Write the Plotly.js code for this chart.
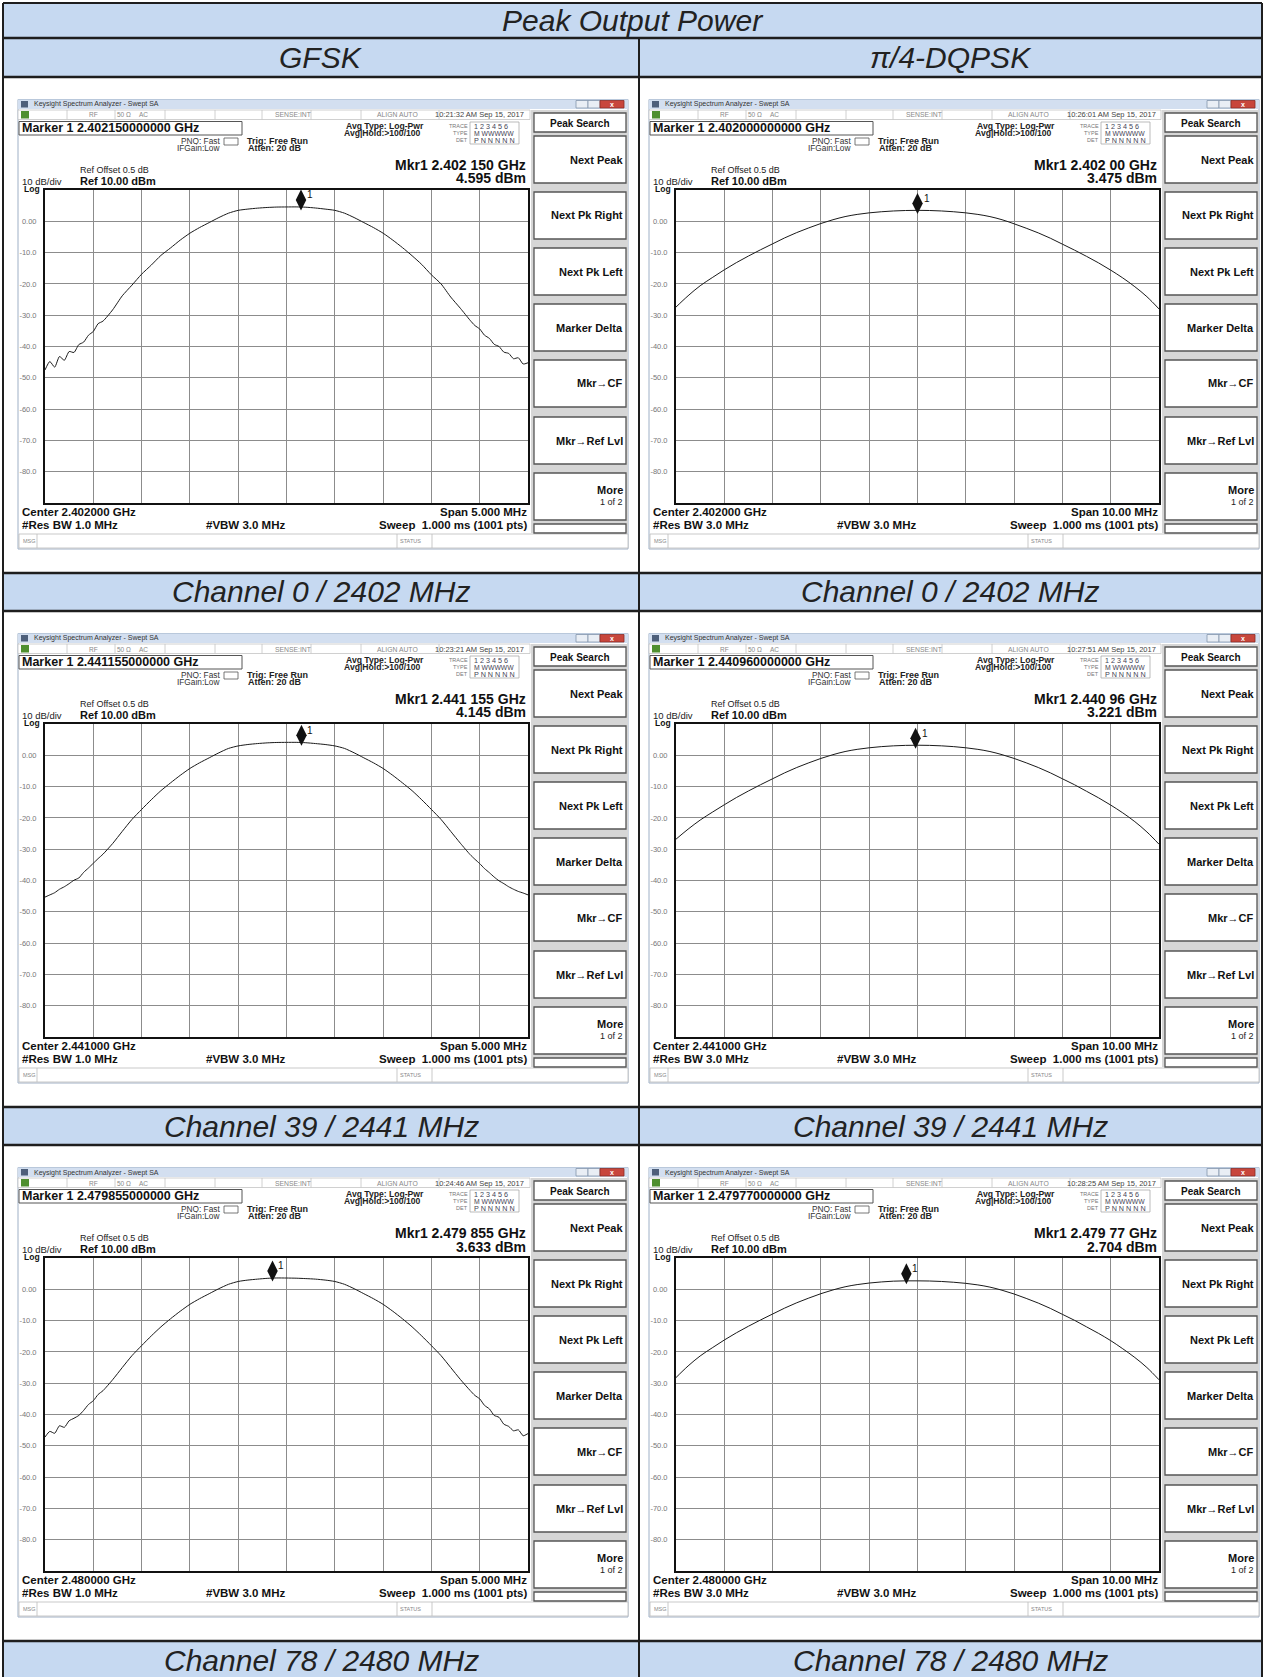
<!DOCTYPE html>
<html><head><meta charset="utf-8">
<script src="https://cdn.plot.ly/plotly-3.0.1.min.js"></script>
<style>html,body{margin:0;padding:0;background:#fff}#chart{width:1265px;height:1677px}</style>
</head><body><div id="chart"></div>
<script>
// ---------------- DATA ----------------
const tableTitle = 'Peak Output Power';
const modulations = ['GFSK', 'π/4-DQPSK'];
const channelLabels = ['Channel 0 / 2402 MHz', 'Channel 39 / 2441 MHz', 'Channel 78 / 2480 MHz'];
const channelCentersMHz = [2402, 2441, 2480];
const centerTexts = ['Center 2.402000 GHz', 'Center 2.441000 GHz', 'Center 2.480000 GHz'];

const gfskSpanMHz = 5;
const dqpskSpanMHz = 10;

// frequency offsets from centre (MHz) of the sampled trace points
const gfskOffsetsMHz = [-2.5,-2.45,-2.4,-2.35,-2.3,-2.25,-2.2,-2.15,-2.1,-2.05,-2.0,-1.95,-1.9,
  -1.8,-1.7,-1.6,-1.5,-1.4,-1.3,-1.2,-1.1,-1.0,-0.9,-0.8,-0.7,-0.6,-0.5,-0.4,-0.3,-0.2,-0.1,
  0,0.1,0.2,0.3,0.4,0.5,0.6,0.7,0.8,0.9,1.0,1.1,1.2,1.3,1.4,1.5,1.6,1.7,1.8,
  1.9,1.95,2.0,2.05,2.1,2.15,2.2,2.25,2.3,2.35,2.4,2.45,2.5];
const gfskCh0 = [-47.5,-44.8,-46.6,-43.2,-44.4,-41.6,-41.9,-39.4,-38.6,-36.4,-35.2,-32.7,-31.9,
  -28.3,-23.8,-20.4,-16.9,-14.0,-10.9,-8.5,-6.0,-3.8,-2.0,-0.4,1.2,2.6,3.5,3.9,4.2,4.42,4.55,
  4.58,4.6,4.5,4.25,3.9,3.5,2.6,1.2,-0.4,-2.0,-3.8,-6.0,-8.4,-11.0,-13.8,-17.1,-20.0,-24.2,-27.8,
  -31.6,-33.3,-34.4,-36.4,-37.4,-39.3,-40.0,-41.8,-42.2,-43.9,-43.6,-45.6,-45.2];
const gfskCh39 = [-45.3,-44.6,-43.9,-42.8,-42.0,-41.0,-39.9,-39.2,-37.4,-36.0,-34.5,-33.0,-31.6,
  -28.2,-24.3,-20.5,-17.3,-14.2,-11.3,-8.8,-6.4,-4.2,-2.4,-0.8,0.8,2.2,3.0,3.45,3.75,3.97,4.1,
  4.13,4.14,4.02,3.75,3.45,3.0,2.2,0.8,-0.8,-2.4,-4.2,-6.4,-8.8,-11.3,-14.2,-17.3,-20.5,-24.3,-28.1,
  -31.7,-33.2,-34.6,-36.2,-37.5,-38.9,-40.1,-41.0,-42.0,-42.8,-43.5,-44.0,-44.6];
const gfskCh78 = [-47.2,-45.4,-46.0,-43.6,-44.1,-42.0,-41.2,-40.3,-38.7,-36.8,-35.6,-33.6,-32.4,
  -28.9,-25.0,-21.2,-18.0,-14.9,-12.0,-9.4,-7.0,-4.8,-3.0,-1.4,0.2,1.6,2.5,2.95,3.25,3.5,3.62,
  3.6,3.55,3.42,3.25,2.95,2.5,1.6,0.2,-1.4,-3.0,-4.8,-7.0,-9.4,-12.0,-14.9,-18.0,-21.2,-25.0,-28.8,
  -32.3,-33.9,-35.0,-37.1,-38.2,-40.3,-40.9,-43.1,-43.8,-45.2,-44.9,-46.8,-46.1];

const dqpskOffsetsMHz = [-5,-4.75,-4.5,-4.25,-4,-3.75,-3.5,-3.25,-3,-2.75,-2.5,-2.25,-2,-1.75,-1.5,-1.25,-1,-0.75,-0.5,-0.25,
  0,0.25,0.5,0.75,1,1.25,1.5,1.75,2,2.25,2.5,2.75,3,3.25,3.5,3.75,4,4.25,4.5,4.75,5];
const dqpskCh0 = [-27.4,-23.8,-20.6,-18.0,-15.5,-13.2,-11.1,-9.1,-7.2,-5.3,-3.6,-2.1,-0.7,0.5,1.5,2.2,2.7,3.05,3.3,3.45,
  3.5,3.45,3.3,3.05,2.7,2.2,1.5,0.5,-0.8,-2.2,-3.7,-5.4,-7.3,-9.2,-11.2,-13.3,-15.6,-18.1,-20.9,-24.1,-28.0];
const dqpskCh39 = [-26.8,-23.6,-20.7,-18.2,-15.8,-13.5,-11.4,-9.4,-7.5,-5.6,-3.9,-2.4,-1.0,0.2,1.2,1.9,2.4,2.77,3.02,3.17,
  3.22,3.17,3.02,2.77,2.4,1.9,1.2,0.2,-1.0,-2.4,-3.9,-5.6,-7.5,-9.4,-11.5,-13.6,-15.9,-18.4,-21.2,-24.5,-28.4];
const dqpskCh78 = [-28.2,-24.5,-21.3,-18.7,-16.2,-13.9,-11.8,-9.8,-7.9,-6.0,-4.3,-2.8,-1.4,-0.2,0.8,1.5,2.0,2.35,2.6,2.7,
  2.7,2.65,2.5,2.25,1.9,1.4,0.7,-0.3,-1.5,-2.9,-4.4,-6.1,-8.0,-9.9,-12.0,-14.1,-16.4,-19.0,-21.8,-25.0,-28.9];

const gfskMarkerFreqMHz = [2402.150, 2441.155, 2479.855];
const gfskMarkerPower = [4.595, 4.145, 3.633];
const dqpskMarkerFreqMHz = [2402.00, 2440.96, 2479.77];
const dqpskMarkerPower = [3.475, 3.221, 2.704];

const gfskMarkerLines = ['Marker 1 2.402150000000 GHz', 'Marker 1 2.441155000000 GHz', 'Marker 1 2.479855000000 GHz'];
const dqpskMarkerLines = ['Marker 1 2.402000000000 GHz', 'Marker 1 2.440960000000 GHz', 'Marker 1 2.479770000000 GHz'];
const gfskMkrReadouts = ['Mkr1 2.402 150 GHz', 'Mkr1 2.441 155 GHz', 'Mkr1 2.479 855 GHz'];
const dqpskMkrReadouts = ['Mkr1 2.402 00 GHz', 'Mkr1 2.440 96 GHz', 'Mkr1 2.479 77 GHz'];
const gfskTimes = ['10:21:32 AM Sep 15, 2017', '10:23:21 AM Sep 15, 2017', '10:24:46 AM Sep 15, 2017'];
const dqpskTimes = ['10:26:01 AM Sep 15, 2017', '10:27:51 AM Sep 15, 2017', '10:28:25 AM Sep 15, 2017'];

const yTickVals = [0, -10, -20, -30, -40, -50, -60, -70, -80];
const yTickText = ['0.00', '-10.0', '-20.0', '-30.0', '-40.0', '-50.0', '-60.0', '-70.0', '-80.0'];
const softkeys = ['Next Peak', 'Next Pk Right', 'Next Pk Left', 'Marker Delta', 'Mkr→CF', 'Mkr→Ref Lvl', 'More'];

// ---------------- LAYOUT HELPERS ----------------
const W = 1265, H = 1677;
const FONT = 'Liberation Sans, Arial, sans-serif';
const X = p => p / W, Y = p => 1 - p / H;
const shapes = [], ann = [], traces = [];
const layout = {
  width: W, height: H, margin: {l: 0, r: 0, t: 0, b: 0},
  paper_bgcolor: '#ffffff', plot_bgcolor: '#ffffff', showlegend: false,
  font: {family: FONT, color: '#111'}
};
function rect(x0, y0, x1, y1, fill, lc, lw, layer) {
  shapes.push({type: 'rect', xref: 'paper', yref: 'paper', x0: X(x0), x1: X(x1), y0: Y(y1), y1: Y(y0),
    fillcolor: fill || 'rgba(0,0,0,0)', line: {color: lc || 'rgba(0,0,0,0)', width: lw || 0}, layer: layer || 'below'});
}
function seg(x0, y0, x1, y1, c, w, layer) {
  shapes.push({type: 'line', xref: 'paper', yref: 'paper', x0: X(x0), x1: X(x1), y0: Y(y0), y1: Y(y1),
    line: {color: c, width: w}, layer: layer || 'below'});
}
function txt(x, y, s, size, o) {
  o = o || {};
  let t = s;
  if (o.bold) t = '<b>' + t + '</b>';
  if (o.italic) t = '<i>' + t + '</i>';
  ann.push({xref: 'paper', yref: 'paper', x: X(x), y: Y(y), text: t, showarrow: false,
    xanchor: o.xa || 'left', yanchor: 'middle', borderpad: 0,
    font: {family: FONT, size: size, color: o.color || '#111'}});
}

// ---------------- TABLE ----------------
const BLUE = '#c6d9f1';
const TL = 3, TR = 1262, CM = 639, PITCH = 534;
rect(TL, 3, TR, 38, BLUE);
rect(TL, 38, TR, 77, BLUE);
for (let r = 0; r < 3; r++) rect(TL, 573 + r * PITCH, TR, 611 + r * PITCH, BLUE);
const TFS = 30;
txt((TL + TR) / 2, 21, tableTitle, TFS, {xa: 'center', italic: true, color: '#222'});
txt((TL + CM) / 2, 58, modulations[0], TFS, {xa: 'center', italic: true, color: '#222'});
txt((CM + TR) / 2, 58, modulations[1], TFS, {xa: 'center', italic: true, color: '#222'});
for (let r = 0; r < 3; r++) {
  txt((TL + CM) / 2, 592 + r * PITCH, channelLabels[r], TFS, {xa: 'center', italic: true, color: '#222'});
  txt((CM + TR) / 2, 592 + r * PITCH, channelLabels[r], TFS, {xa: 'center', italic: true, color: '#222'});
}

// ---------------- SCREENS ----------------
function screen(idx, col, row, cfg) {
  const dx = col * 631, dy = row * PITCH;
  const P = v => v + dx, Q = v => v + dy;
  const ax = idx === 1 ? '' : String(idx);
  // body
  rect(P(18), Q(99.5), P(628), Q(549), '#ffffff', '#9fb0c6', 1);
  // title bar
  rect(P(18), Q(99.5), P(628), Q(109), '#d3dff0');
  rect(P(21), Q(101), P(28), Q(107.5), '#4d5f7a');
  txt(P(33), Q(104.5), 'Keysight Spectrum Analyzer - Swept SA', 7, {color: '#333'});
  rect(P(576), Q(100.5), P(588), Q(108), '#e9eef5', '#8394ab', 0.8);
  rect(P(588), Q(100.5), P(600), Q(108), '#e9eef5', '#8394ab', 0.8);
  rect(P(600), Q(100.5), P(624), Q(108), '#c8463c', '#8a2b25', 0.8);
  txt(P(612), Q(104), 'x', 7, {xa: 'center', color: '#fff', bold: true});
  // status row
  rect(P(18), Q(110), P(530), Q(119.5), '#ffffff', '#c4c4c4', 0.8);
  rect(P(21), Q(111), P(29), Q(118.5), '#4f8f2f');
  [67, 115, 165, 215, 262, 311, 361, 439].forEach(v => seg(P(v), Q(110), P(v), Q(119.5), '#c4c4c4', 0.8));
  txt(P(93), Q(115), 'RF', 6.5, {xa: 'center', color: '#888'});
  txt(P(124), Q(115), '50 Ω', 6.5, {xa: 'center', color: '#888'});
  txt(P(143), Q(115), 'AC', 6.5, {xa: 'center', color: '#888'});
  txt(P(293), Q(115), 'SENSE:INT', 6.8, {xa: 'center', color: '#888'});
  txt(P(397), Q(115), 'ALIGN AUTO', 6.8, {xa: 'center', color: '#888'});
  txt(P(480), Q(115), cfg.time, 7.5, {xa: 'center', color: '#444'});
  // marker box
  rect(P(19), Q(121.5), P(242), Q(135), '#ffffff', '#555', 1);
  txt(P(21), Q(128.3), cfg.markerLine, 12.5, {bold: true});
  txt(P(221), Q(141), 'PNO: Fast', 8.3, {xa: 'right', color: '#333'});
  rect(P(224), Q(138), P(238), Q(145), 'rgba(0,0,0,0)', '#555', 0.8);
  txt(P(221), Q(148), 'IFGain:Low', 8.3, {xa: 'right', color: '#333'});
  txt(P(246), Q(140.5), 'Trig: Free Run', 9, {bold: true, color: '#222'});
  txt(P(247), Q(148), 'Atten: 20 dB', 9, {bold: true, color: '#222'});
  txt(P(345), Q(126), 'Avg Type: Log-Pwr', 8.6, {bold: true, color: '#222'});
  txt(P(343), Q(133), 'Avg|Hold:&gt;100/100', 8.6, {bold: true, color: '#222'});
  txt(P(469), Q(126), 'TRACE', 5.5, {xa: 'right', color: '#777'});
  txt(P(469), Q(133), 'TYPE', 5.5, {xa: 'right', color: '#777'});
  txt(P(469), Q(140), 'DET', 5.5, {xa: 'right', color: '#777'});
  rect(P(470), Q(122), P(519), Q(144), 'rgba(0,0,0,0)', '#aaa', 0.8);
  txt(P(473), Q(126), '1 2 3 4 5 6', 7.2, {color: '#445'});
  txt(P(473), Q(133), 'M WWWWW', 6.8, {color: '#445'});
  txt(P(473), Q(140), 'P N N N N N', 7.2, {color: '#445'});
  // readouts
  txt(P(527), Q(164.5), cfg.mkrText, 14, {xa: 'right', bold: true});
  txt(P(527), Q(178.5), cfg.pwrText, 14, {xa: 'right', bold: true});
  txt(P(79), Q(170), 'Ref Offset 0.5 dB', 9, {color: '#222'});
  txt(P(21), Q(181.5), '10 dB/div', 9.5, {color: '#222'});
  txt(P(79), Q(181), 'Ref 10.00 dBm', 11, {bold: true});
  txt(P(23), Q(189), 'Log', 8.5, {bold: true});
  // bottom readouts
  txt(P(21), Q(512), cfg.centerText, 11.5, {bold: true});
  txt(P(21), Q(525), cfg.rbwText, 11.5, {bold: true});
  txt(P(245), Q(525), '#VBW 3.0 MHz', 11.5, {xa: 'center', bold: true});
  txt(P(528), Q(512), cfg.spanText, 11.5, {xa: 'right', bold: true});
  txt(P(528), Q(525), 'Sweep  1.000 ms (1001 pts)', 11.5, {xa: 'right', bold: true});
  // msg bar
  rect(P(19), Q(534), P(628), Q(548), '#ffffff', '#bbbbbb', 0.8);
  [37, 397, 432].forEach(v => seg(P(v), Q(534), P(v), Q(548), '#bbbbbb', 0.8));
  txt(P(22), Q(541), 'MSG', 5.5, {color: '#888'});
  txt(P(399), Q(541), 'STATUS', 5.5, {color: '#888'});
  // softkey panel
  rect(P(531), Q(110), P(628), Q(533), '#d6d6d6');
  rect(P(534), Q(113), P(626), Q(132), '#ffffff', '#555', 1.3);
  txt(P(580), Q(123), 'Peak Search', 10, {xa: 'center', bold: true});
  const tops = [136, 192, 248, 304, 360, 417, 473];
  tops.forEach((t, k) => {
    rect(P(534), Q(t), P(626), Q(t + 47), '#ffffff', '#555', 1.3);
    if (k < 6) txt(P(624), Q(t + 23.5), softkeys[k], 11, {xa: 'right', bold: true});
  });
  txt(P(624), Q(489.5), softkeys[6], 11, {xa: 'right', bold: true});
  txt(P(624), Q(501.5), '1 of 2', 9, {xa: 'right', color: '#222'});
  rect(P(534), Q(524), P(626), Q(533), '#ffffff', '#555', 1.3);

  // axes
  const c = cfg.center, sp = cfg.span;
  layout['xaxis' + ax] = {domain: [X(P(45)), X(P(528))], range: [c - sp / 2, c + sp / 2], tick0: c, dtick: sp / 10,
    showticklabels: false, ticks: '', showgrid: true, gridcolor: '#8c8c8c', gridwidth: 1, zeroline: false,
    showline: true, mirror: true, linecolor: '#111', linewidth: 2, anchor: 'y' + ax, fixedrange: true};
  layout['yaxis' + ax] = {domain: [Y(Q(503)), Y(Q(190))], range: [-90, 10], tickvals: yTickVals, ticktext: yTickText,
    tickfont: {family: FONT, size: 7.5, color: '#777'}, ticks: '', showgrid: true, gridcolor: '#8c8c8c', gridwidth: 1,
    zeroline: false, showline: true, mirror: true, linecolor: '#111', linewidth: 2, anchor: 'x' + ax, fixedrange: true,
    ticklabelstandoff: 5};
  traces.push({x: cfg.off.map(o => c + o), y: cfg.vals, type: 'scatter', mode: 'lines',
    line: {color: '#1a1a1a', width: 1, shape: 'spline', smoothing: cfg.smooth}, xaxis: 'x' + ax, yaxis: 'y' + ax, hoverinfo: 'skip'});
  traces.push({x: [cfg.mkrF], y: [cfg.mkrP], type: 'scatter', mode: 'markers', cliponaxis: false,
    marker: {symbol: 'diamond-tall', size: 15, color: '#111', angle: 180, standoff: 7},
    xaxis: 'x' + ax, yaxis: 'y' + ax, hoverinfo: 'skip'});
  ann.push({xref: 'x' + ax, yref: 'y' + ax, x: cfg.mkrF, y: cfg.mkrP, text: '1', showarrow: false,
    xanchor: 'left', xshift: 4, yshift: 12, font: {family: FONT, size: 10, color: '#111'}});
}

const gfskSets = [gfskCh0, gfskCh39, gfskCh78];
const dqpskSets = [dqpskCh0, dqpskCh39, dqpskCh78];
for (let r = 0; r < 3; r++) {
  screen(r * 2 + 1, 0, r, {center: channelCentersMHz[r], span: gfskSpanMHz, off: gfskOffsetsMHz, vals: gfskSets[r],
    smooth: 0.6, mkrF: gfskMarkerFreqMHz[r], mkrP: gfskMarkerPower[r], markerLine: gfskMarkerLines[r],
    time: gfskTimes[r], mkrText: gfskMkrReadouts[r], pwrText: gfskMarkerPower[r].toFixed(3) + ' dBm',
    centerText: centerTexts[r], spanText: 'Span 5.000 MHz', rbwText: '#Res BW 1.0 MHz'});
  screen(r * 2 + 2, 1, r, {center: channelCentersMHz[r], span: dqpskSpanMHz, off: dqpskOffsetsMHz, vals: dqpskSets[r],
    smooth: 1, mkrF: dqpskMarkerFreqMHz[r], mkrP: dqpskMarkerPower[r], markerLine: dqpskMarkerLines[r],
    time: dqpskTimes[r], mkrText: dqpskMkrReadouts[r], pwrText: dqpskMarkerPower[r].toFixed(3) + ' dBm',
    centerText: centerTexts[r], spanText: 'Span 10.00 MHz', rbwText: '#Res BW 3.0 MHz'});
}

// table lines (on top)
const LC = '#1e1e1e';
[3, 38, 77, 573, 611, 573 + PITCH, 611 + PITCH, 573 + 2 * PITCH, 611 + 2 * PITCH].forEach(v =>
  seg(TL, v, TR, v, LC, v === 3 ? 2 : 2.5, 'above'));
seg(TL, 3, TL, 1677, LC, 2, 'above');
seg(TR, 3, TR, 1677, LC, 2, 'above');
seg(CM, 38, CM, 1677, LC, 2, 'above');

layout.shapes = shapes;
layout.annotations = ann;
Plotly.newPlot('chart', traces, layout, {staticPlot: true, displayModeBar: false});
</script></body></html>
